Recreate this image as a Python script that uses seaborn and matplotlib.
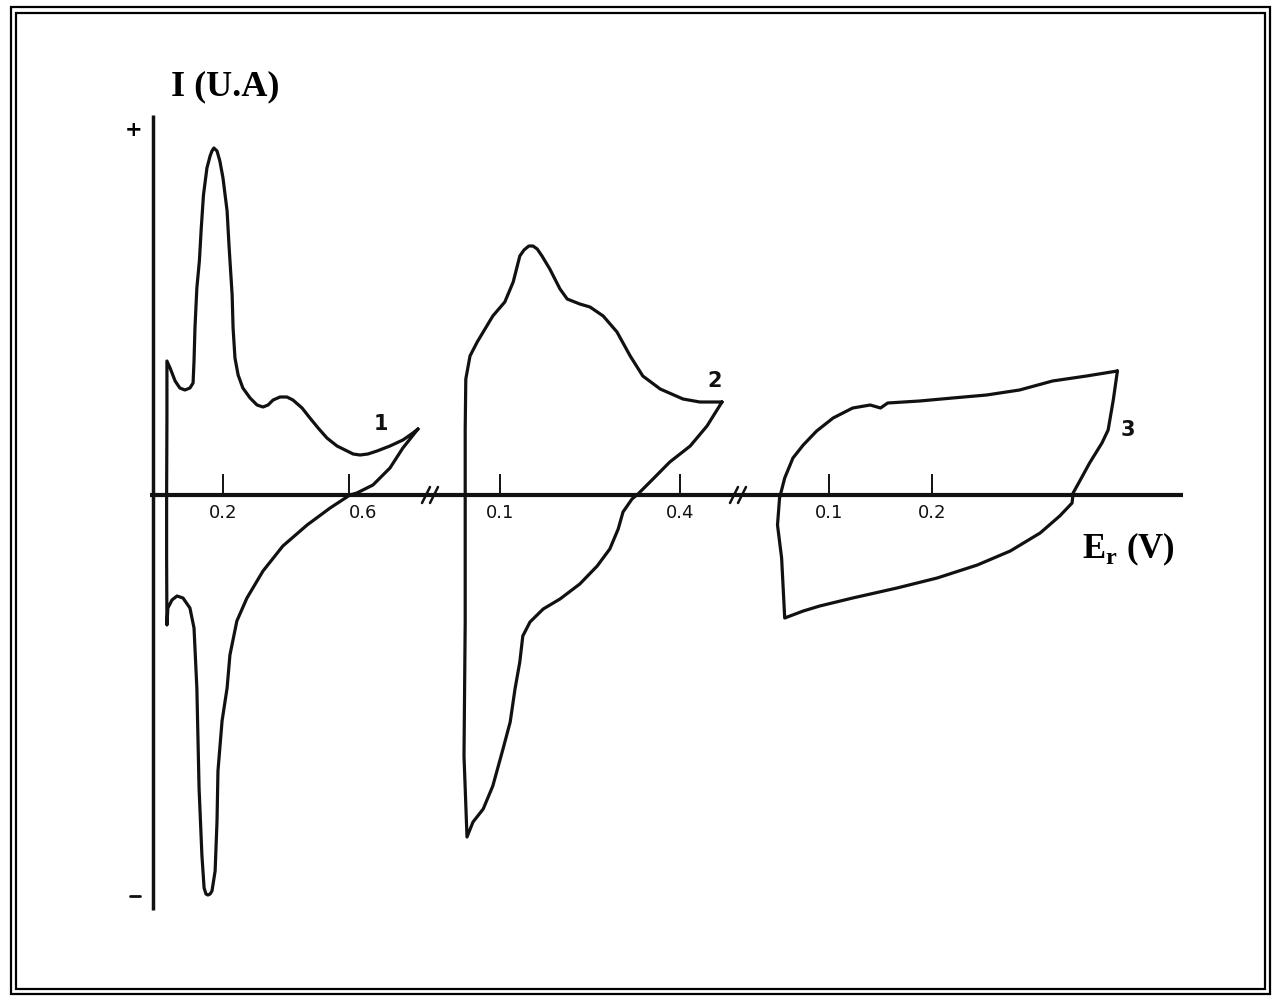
import matplotlib
matplotlib.use("Agg")
import matplotlib.pyplot as plt
from matplotlib.patches import Rectangle
import numpy as np
import pandas as pd
import seaborn as sns

sns.set_theme(style="white")
plt.rcParams["font.family"] = ["DejaVu Sans"]
plt.rcParams["text.color"] = "black"
plt.rcParams["mathtext.fontset"] = "custom"
plt.rcParams["mathtext.rm"] = "Liberation Serif:bold"

# ---- voltammograms: potential E (V) and current I (arbitrary units) ----
E1 = [0.819, 0.771, 0.730, 0.676, 0.625, 0.603, 0.540, 0.467, 0.390, 0.327,
      0.276, 0.244, 0.222, 0.213, 0.197, 0.184, 0.181, 0.175, 0.165, 0.159,
      0.152, 0.146, 0.140, 0.133, 0.124, 0.117, 0.108, 0.095, 0.073, 0.054,
      0.038, 0.025, 0.022, 0.021, 0.021, 0.022, 0.022,
      0.032, 0.048, 0.063, 0.079, 0.095, 0.105, 0.108, 0.111, 0.117, 0.125,
      0.131, 0.138, 0.149, 0.159, 0.165, 0.171, 0.181, 0.190, 0.200, 0.213,
      0.219, 0.229, 0.232, 0.238, 0.248, 0.263, 0.286, 0.308, 0.327, 0.343,
      0.359, 0.381, 0.403, 0.422, 0.451, 0.476, 0.502, 0.530, 0.562, 0.594,
      0.613, 0.635, 0.660, 0.689, 0.730, 0.771, 0.803, 0.819]
I1 = [0.66, 0.47, 0.27, 0.10, 0.02, 0.00, -0.13, -0.30, -0.51, -0.76,
      -1.03, -1.26, -1.60, -1.93, -2.26, -2.76, -3.26, -3.76, -3.96, -3.99,
      -4.00, -3.99, -3.93, -3.60, -2.93, -1.93, -1.33, -1.13, -1.03, -1.01,
      -1.05, -1.13, -1.30, -0.63, 0.00, 0.77, 1.34,
      1.27, 1.14, 1.07, 1.05, 1.07, 1.12, 1.34, 1.67, 2.07, 2.34,
      2.67, 3.00, 3.27, 3.39, 3.44, 3.47, 3.44, 3.34, 3.17, 2.84,
      2.50, 2.00, 1.67, 1.37, 1.20, 1.07, 0.97, 0.90, 0.88, 0.90,
      0.95, 0.98, 0.98, 0.95, 0.87, 0.77, 0.67, 0.57, 0.49, 0.44,
      0.41, 0.40, 0.41, 0.44, 0.49, 0.55, 0.62, 0.66]

E2 = [0.470, 0.445, 0.417, 0.383, 0.355, 0.330, 0.320, 0.305, 0.297, 0.283,
      0.262, 0.233, 0.200, 0.172, 0.150, 0.138, 0.133, 0.125, 0.117, 0.105,
      0.088, 0.072, 0.055, 0.045, 0.040, 0.042, 0.042, 0.042, 0.043, 0.050,
      0.062, 0.078, 0.088, 0.108, 0.122, 0.133, 0.140, 0.148, 0.155, 0.162,
      0.170, 0.183, 0.200, 0.212, 0.233, 0.250, 0.272, 0.295, 0.317, 0.338,
      0.367, 0.405, 0.433, 0.470]
I2 = [0.93, 0.69, 0.49, 0.33, 0.16, 0.01, -0.04, -0.17, -0.34, -0.54,
      -0.71, -0.89, -1.04, -1.14, -1.27, -1.41, -1.67, -1.94, -2.27, -2.54,
      -2.91, -3.14, -3.27, -3.42, -2.61, -1.27, 0.00, 0.66, 1.16, 1.39,
      1.53, 1.69, 1.79, 1.93, 2.13, 2.39, 2.45, 2.49, 2.49, 2.46,
      2.39, 2.26, 2.06, 1.96, 1.91, 1.88, 1.79, 1.63, 1.39, 1.19,
      1.06, 0.96, 0.93, 0.93]

E3 = [0.380, 0.376, 0.371, 0.365, 0.353, 0.344, 0.337, 0.336, 0.324, 0.305,
      0.276, 0.244, 0.205, 0.166, 0.123, 0.091, 0.075, 0.057, 0.054, 0.050,
      0.052, 0.057, 0.065, 0.075, 0.088, 0.104, 0.123, 0.140, 0.150, 0.157,
      0.188, 0.220, 0.253, 0.285, 0.317, 0.350, 0.380]
I3 = [1.24, 0.95, 0.65, 0.52, 0.32, 0.15, 0.02, -0.08, -0.21, -0.38,
      -0.56, -0.70, -0.83, -0.93, -1.03, -1.11, -1.16, -1.23, -0.63, -0.30,
      -0.03, 0.17, 0.37, 0.50, 0.64, 0.77, 0.87, 0.90, 0.87, 0.92,
      0.94, 0.97, 1.00, 1.05, 1.14, 1.19, 1.24]

curve_names = ["1", "2", "3"]
ticks1, ticks2, ticks3 = [0.2, 0.6], [0.1, 0.4], [0.1, 0.2]
ticklabels1, ticklabels2, ticklabels3 = ["0.2", "0.6"], ["0.1", "0.4"], ["0.1", "0.2"]

# ---- layout of the broken potential axis (pixels on a 1273 x 996 canvas) ----
W, H = 1273, 996
AXIS_Y = 495                        # pixel row of I = 0
PX_PER_UNIT_I = 100.0
seg_span = [(140, 430), (430, 740), (740, W)]
seg_zero = [160, 440, 726]          # pixel column of E = 0 in each segment
seg_scale = [315.0, 600.0, 1030.0]  # pixels per volt in each segment
axis_span = [(150, 430), (430, 740), (740, 1183)]
INK = "#111111"

fig = plt.figure(figsize=(W / 100, H / 100), dpi=100)
fig.patch.set_facecolor("white")

bg = fig.add_axes([0, 0, 1, 1])
bg.set_xlim(0, W)
bg.set_ylim(H, 0)
bg.axis("off")

# double frame
for x0, y0, x1, y1 in [(11, 7, 1270, 994), (16, 13, 1265, 989)]:
    bg.add_patch(Rectangle((x0, y0), x1 - x0, y1 - y0, fill=False,
                           ec="black", lw=1.6))

ylim = (-(H - AXIS_Y) / PX_PER_UNIT_I, AXIS_Y / PX_PER_UNIT_I)

segments = [
    (E1, I1, ticks1, ticklabels1, ["center", "left"]),
    (E2, I2, ticks2, ticklabels2, ["center", "center"]),
    (E3, I3, ticks3, ticklabels3, ["center", "center"]),
]

axes = []
for k, (E, I, tks, tlabels, has) in enumerate(segments):
    a, b = seg_span[k]
    ax = fig.add_axes([a / W, 0, (b - a) / W, 1])
    ax.patch.set_alpha(0)
    ax.set_xlim((a - seg_zero[k]) / seg_scale[k], (b - seg_zero[k]) / seg_scale[k])
    ax.set_ylim(*ylim)
    ax.axis("off")

    df = pd.DataFrame({"E": E, "I": I})
    sns.lineplot(data=df, x="E", y="I", sort=False, estimator=None,
                 color=INK, lw=2.3, ax=ax)

    # potential axis for this segment
    xa, xb = axis_span[k]
    ax.plot([(xa - seg_zero[k]) / seg_scale[k], (xb - seg_zero[k]) / seg_scale[k]],
            [0, 0], color=INK, lw=3.0, solid_capstyle="butt")
    ax.vlines(tks, 0, 0.21, color=INK, lw=1.4)
    for t, lab, ha in zip(tks, tlabels, has):
        ax.text(t, -0.18, lab, ha=ha, va="center", fontsize=13,
                family="DejaVu Sans", color=INK)
    axes.append(ax)

# current axis
ax1 = axes[0]
ex = (153 - seg_zero[0]) / seg_scale[0]
ax1.plot([ex, ex], [3.80, -4.15], color=INK, lw=2.5, solid_capstyle="butt")

# curve labels
ax1.text(0.70, 0.71, curve_names[0], fontsize=15, fontweight="bold",
         ha="center", va="center", color=INK)
axes[1].text(0.458, 1.14, curve_names[1], fontsize=15, fontweight="bold",
             ha="center", va="center", color=INK)
axes[2].text(0.390, 0.65, curve_names[2], fontsize=15, fontweight="bold",
             ha="center", va="center", color=INK)

# axis break marks
for bx in (430, 738):
    for dx in (-4, 4):
        bg.plot([bx + dx - 4, bx + dx + 4], [503, 487], color=INK, lw=1.8)

# axis titles and signs
bg.text(225, 95, "I (U.A)", family="Liberation Serif", fontweight="bold",
        fontsize=26, ha="center", va="baseline", color="black")
bg.text(1128, 558, r"E$_\mathrm{r}$ (V)", family="Liberation Serif",
        fontweight="bold", fontsize=25, ha="center", va="baseline", color="black")
bg.text(134, 130, "+", fontsize=15, fontweight="bold", ha="center", va="center",
        color="black")
bg.plot([130, 140], [896, 896], color=INK, lw=2.0)

fig.savefig("out.png", dpi=100, facecolor="white")
